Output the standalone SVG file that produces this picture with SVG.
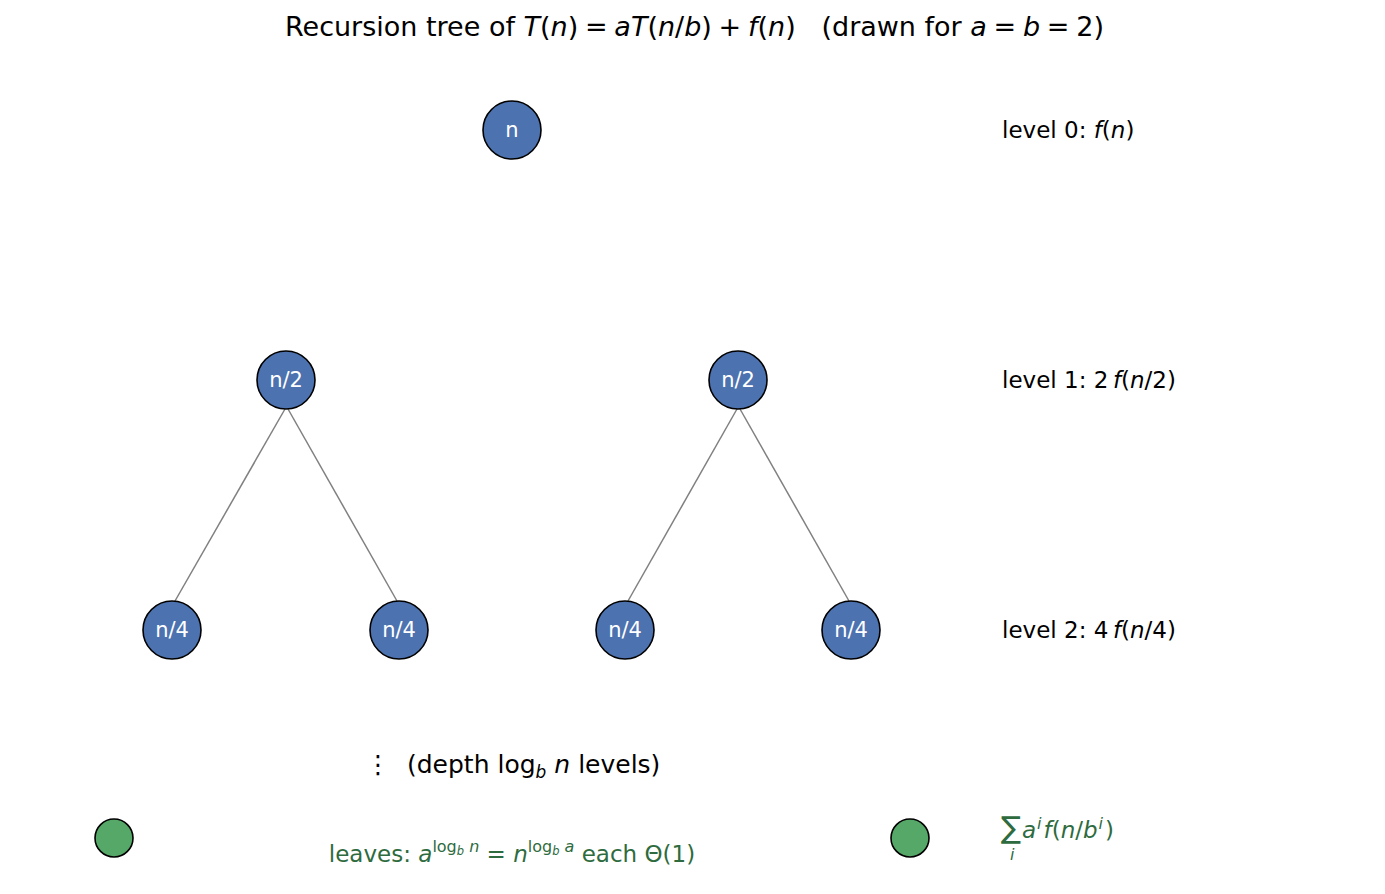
<svg xmlns="http://www.w3.org/2000/svg" width="1385" height="894" viewBox="0 0 1385 894">
<style>
text{font-family:"DejaVu Sans","Liberation Sans",sans-serif;white-space:pre}
.i{font-style:italic}
.node circle{fill:#4c72b0;stroke:#000;stroke-width:1.6}
.leaf circle{fill:#55a868;stroke:#000;stroke-width:1.6}
.node text{fill:#fff;font-size:21px;text-anchor:middle}
.edge{stroke:#808080;stroke-width:1.5;fill:none}
.lvl{font-size:23px;fill:#000}
.green{fill:#2e6b3e}
</style>
<rect width="1385" height="894" fill="#fff"/>
<text x="285" y="36" font-size="27">Recursion tree of <tspan class="i">T</tspan>(<tspan class="i">n</tspan>)&#x2005;=&#x2005;<tspan class="i">a</tspan><tspan class="i">T</tspan>(<tspan class="i">n</tspan>/<tspan class="i">b</tspan>)&#x2005;+&#x2005;<tspan class="i">f</tspan>(<tspan class="i">n</tspan>)   (drawn for <tspan class="i">a</tspan>&#x2005;=&#x2005;<tspan class="i">b</tspan>&#x2005;=&#x2005;2)</text>
<g id="connectors">
<line class="edge" x1="285" y1="409" x2="175" y2="601"/>
<line class="edge" x1="288" y1="409" x2="397" y2="601"/>
<line class="edge" x1="737" y1="409" x2="628" y2="601"/>
<line class="edge" x1="740" y1="409" x2="849" y2="601"/>
</g>
<g id="node-root" class="node"><circle cx="512" cy="130" r="29"/><text x="512" y="137">n</text></g>
<g id="node-l1a" class="node"><circle cx="286" cy="380" r="29"/><text x="286" y="387">n/2</text></g>
<g id="node-l1b" class="node"><circle cx="738" cy="380" r="29"/><text x="738" y="387">n/2</text></g>
<g id="node-l2a" class="node"><circle cx="172" cy="630" r="29"/><text x="172" y="637">n/4</text></g>
<g id="node-l2b" class="node"><circle cx="399" cy="630" r="29"/><text x="399" y="637">n/4</text></g>
<g id="node-l2c" class="node"><circle cx="625" cy="630" r="29"/><text x="625" y="637">n/4</text></g>
<g id="node-l2d" class="node"><circle cx="851" cy="630" r="29"/><text x="851" y="637">n/4</text></g>
<g id="leaf-left" class="leaf"><circle cx="114" cy="838" r="19"/></g>
<g id="leaf-right" class="leaf"><circle cx="910" cy="838" r="19"/></g>
<g id="level-labels">
<text class="lvl" x="1002" y="138">level 0: <tspan class="i">f</tspan>(<tspan class="i">n</tspan>)</text>
<text class="lvl" x="1002" y="388">level 1: 2&#x2009;<tspan class="i">f</tspan>(<tspan class="i">n</tspan>/2)</text>
<text class="lvl" x="1002" y="638">level 2: 4&#x2009;<tspan class="i">f</tspan>(<tspan class="i">n</tspan>/4)</text>
</g>
<text x="378" y="773" font-size="25" text-anchor="middle">⋮</text>
<text x="407" y="773" font-size="25">(depth log<tspan class="i" font-size="17" dy="5">b</tspan><tspan dy="-5"> </tspan><tspan class="i">n</tspan> levels)</text>
<text class="green" x="512" y="862" font-size="23" text-anchor="middle">leaves: <tspan class="i">a</tspan><tspan font-size="16" dy="-10">log</tspan><tspan class="i" font-size="11.5" dy="3">b</tspan><tspan font-size="16" dy="-3"> </tspan><tspan class="i" font-size="16">n</tspan><tspan dy="10"> = </tspan><tspan class="i">n</tspan><tspan font-size="16" dy="-10">log</tspan><tspan class="i" font-size="11.5" dy="3">b</tspan><tspan font-size="16" dy="-3"> </tspan><tspan class="i" font-size="16">a</tspan><tspan dy="10"> each Θ(1)</tspan></text>
<g id="sum-label" class="green">
<text x="1001" y="838" font-size="30">∑</text>
<text class="i" x="1010" y="860" font-size="16">i</text>
<text x="1022" y="838" font-size="23"><tspan class="i">a</tspan><tspan class="i" font-size="16" dy="-9" dx="1">i</tspan><tspan class="i" dy="9" dx="2">f</tspan>(<tspan class="i">n</tspan>/<tspan class="i">b</tspan><tspan class="i" font-size="16" dy="-9" dx="1">i</tspan><tspan dy="9" dx="2">)</tspan></text>
</g>
</svg>
